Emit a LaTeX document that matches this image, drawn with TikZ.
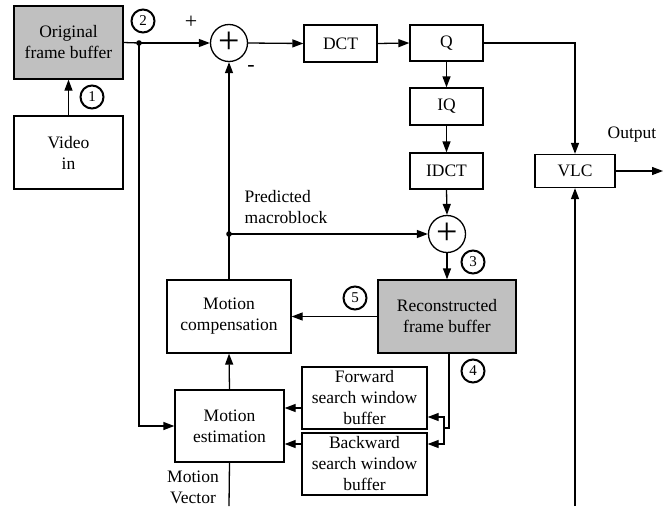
\documentclass[tikz,border=0pt]{standalone}
\usepackage{fontspec}
\setmainfont{Liberation Serif}
\usepackage{tikz}
\usetikzlibrary{arrows.meta, calc}
\definecolor{gris}{RGB}{192,192,192}

\begin{document}
\begin{tikzpicture}[x=1pt, y=-1pt, line width=1.3pt,
		>={Triangle[length=11pt,width=8pt]},
		bloc/.style={draw, align=center, font=\fontsize{17.5}{21}\selectfont, inner sep=0pt},
		somme/.style={draw, circle, minimum size=37pt, inner sep=0pt, font=\fontsize{38}{38}\selectfont},
		num/.style={draw, circle, line width=2pt, minimum size=23pt, inner sep=0pt, font=\fontsize{15}{15}\selectfont},
		lbl/.style={font=\fontsize{17.5}{21}\selectfont, align=left, inner sep=0pt}]
	\useasboundingbox (0,0) rectangle (669,506);
	
	% entree et tampon d'origine
	\node[bloc, fill=gris, minimum width=109pt, minimum height=73pt] (orig) at (68.5,42.5) {Original\\frame buffer};
	\node[bloc, minimum width=109pt, minimum height=73pt] (video) at (68.5,152.5) {Video\\in};
	
	% chaine directe
	\node[somme] (sum1) at (229,43) {+};
	\node[bloc, minimum width=73pt, minimum height=37pt] (dct) at (340.5,43.5) {DCT};
	\node[bloc, minimum width=73pt, minimum height=36pt] (q) at (446.5,43) {Q};
	\node[bloc, minimum width=73pt, minimum height=37pt] (iq) at (446.5,106.5) {IQ};
	\node[bloc, minimum width=73pt, minimum height=36pt] (idct) at (446.5,171) {IDCT};
	\node[bloc, minimum width=80pt, minimum height=33pt] (vlc) at (575,171) {VLC};
	\node[somme] (sum2) at (447,234) {+};
	
	% boucle de reconstruction
	\node[bloc, fill=gris, minimum width=138pt, minimum height=73pt] (recon) at (447,316.5) {Reconstructed\\frame buffer};
	\node[bloc, minimum width=124pt, minimum height=73pt] (mc) at (229,316.5) {Motion\\compensation};
	\node[bloc, minimum width=109pt, minimum height=72pt] (me) at (229.5,426) {Motion\\estimation};
	\node[bloc, minimum width=125pt, minimum height=62pt] (fwd) at (364.5,398) {Forward\\search window\\buffer};
	\node[bloc, minimum width=125pt, minimum height=62pt] (bwd) at (364.5,464) {Backward\\search window\\buffer};
	
	% points de jonction et extremites
	\coordinate (j1) at (139,43);
	\coordinate (j2) at (229,234);
	\coordinate (sp) at (444,428);
	\coordinate (sortie) at (663,171);
	\coordinate (vlcin) at (575,506);
	\coordinate (mvout) at (229,506);
	
	% liaisons
	\draw[->] (video.north) -- (orig.south);
	\draw (orig.east) -- (j1);
	\draw[->] (j1) -- (sum1.west);
	\draw[->] (j1) |- (me.west);
	\draw[->] (sum1.east) -- (dct.west);
	\draw[->] (dct.east) -- (q.west);
	\draw[->] (q.south) -- (iq.north);
	\draw[->] (iq.south) -- (idct.north);
	\draw[->] (idct.south) -- (sum2.north);
	\draw[->] (sum2.south) -- (recon.north);
	\draw[->] (q.east) -| (vlc.north);
	\draw[->] (vlc.east) -- (sortie);
	\draw[->] (vlcin) -- (vlc.south);
	\draw[->] (mc.north) -- (sum1.south);
	\draw[->] (j2) -- (sum2.west);
	\draw[->] (recon.west) -- (mc.east);
	\draw ($(recon.south)+(2,0)$) |- (sp);
	\draw[->] (sp) |- ($(fwd.east)+(0,19)$);
	\draw[->] (sp) |- ($(bwd.east)+(0,-20)$);
	\draw[->] ($(fwd.west)+(0,10)$) -- ($(me.east)+(0,-18)$);
	\draw[->] ($(bwd.west)+(0,-20)$) -- ($(me.east)+(0,18)$);
	\draw[->] (me.north) -- (mc.south);
	\draw (me.south) -- (mvout);
	\fill (j1) circle (2.8pt);
	\fill (j2) circle (2.8pt);
	
	% textes
	\node[lbl, font=\fontsize{22}{22}\selectfont] (plus) at (191,22) {+};
	\node[lbl, font=\fontsize{22}{22}\selectfont] (moins) at (251,68) {-};
	\node[lbl, anchor=west] (pred) at (244,207) {Predicted\\macroblock};
	\node[lbl] (out) at (632,135) {Output};
	\node[lbl, align=center] (mv) at (193,487) {Motion\\Vector};
	
	% etapes numerotees
	\node[num] (c1) at (92,97) {1};
	\node[num] (c2) at (143,21) {2};
	\node[num] (c3) at (473,262) {3};
	\node[num] (c4) at (473,371) {4};
	\node[num] (c5) at (355,298) {5};
\end{tikzpicture}
\end{document}
